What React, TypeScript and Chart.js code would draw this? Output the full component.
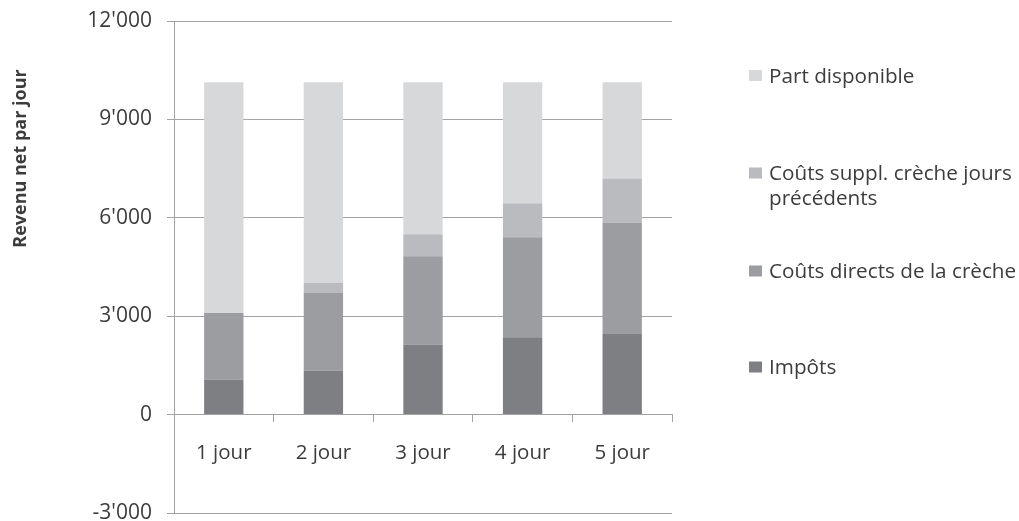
import React, { useEffect, useRef } from "react";
import { Chart, registerables } from "chart.js";

Chart.register(...registerables);

const categories = ["1 jour", "2 jour", "3 jour", "4 jour", "5 jour"];
const impots = [1070, 1340, 2140, 2360, 2460];
const coutsDirects = [2030, 2370, 2690, 3050, 3400];
const coutsSuppl = [0, 310, 670, 1030, 1340];
const partDisponible = [7030, 6110, 4630, 3690, 2930];
const yTicks = [-3000, 0, 3000, 6000, 9000, 12000];

const seriesNames = [
  "Impôts",
  "Coûts directs de la crèche",
  ["Coûts suppl. crèche jours", "précédents"],
  "Part disponible",
];
const colors = ["#7e7f83", "#9c9da1", "#babbbe", "#d7d8da"];

const FONT = "'Open Sans'";
const TEXT = "#3c3c3c";
const GRID = "#a3a3a3";

function fmt(v: number): string {
  const s = Math.abs(v).toString().replace(/\B(?=(\d{3})+(?!\d))/g, "'");
  return (v < 0 ? "-" : "") + s;
}

const overlayPlugin = {
  id: "overlay",
  afterDraw(chart: any) {
    const ctx = chart.ctx;
    ctx.save();
    ctx.fillStyle = TEXT;
    ctx.font = `bold 18px ${FONT}`;
    ctx.textAlign = "center";
    ctx.textBaseline = "alphabetic";
    ctx.translate(26, 158.5);
    ctx.rotate(-Math.PI / 2);
    ctx.fillText("Revenu net par jour", 0, 0);
    ctx.restore();

    ctx.save();
    ctx.font = `20.7px ${FONT}`;
    ctx.textBaseline = "alphabetic";
    ctx.textAlign = "left";
    const rows = [75.5, 173, 271, 367];
    for (let i = 0; i < 4; i++) {
      const di = 3 - i;
      const y = rows[i];
      ctx.fillStyle = colors[di];
      ctx.fillRect(749, y - 5.5, 13, 11);
      ctx.fillStyle = TEXT;
      const name = seriesNames[di];
      const lines = Array.isArray(name) ? name : [name];
      lines.forEach((l, k) => ctx.fillText(l, 769, y + 7 + k * 25));
    }
    ctx.restore();
  },
};

export default function App() {
  const ref = useRef<HTMLCanvasElement>(null);
  useEffect(() => {
    const data = [impots, coutsDirects, coutsSuppl, partDisponible];
    const chart = new Chart(ref.current!, {
      type: "bar",
      data: {
        labels: categories,
        datasets: data.map((d, i) => ({
          label: Array.isArray(seriesNames[i]) ? (seriesNames[i] as string[]).join(" ") : (seriesNames[i] as string),
          data: d,
          backgroundColor: colors[i],
          borderWidth: 0,
          categoryPercentage: 1,
          barPercentage: 0.395,
        })),
      },
      options: {
        animation: false,
        responsive: true,
        maintainAspectRatio: false,
        layout: { padding: { left: 0, right: 347, top: 21, bottom: 47 } },
        plugins: { legend: { display: false }, tooltip: { enabled: false } },
        scales: {
          x: {
            stacked: true,
            position: { y: 0 } as any,
            afterFit: (s: any) => { s.height = 0; s.paddingLeft = 0; s.paddingRight = 0; },
            grid: { display: true, drawOnChartArea: false, drawTicks: true, tickLength: 7, offset: true, color: GRID },
            border: { display: true, color: GRID },
            ticks: { color: TEXT, font: { family: FONT, size: 20.5 }, padding: 19 },
          },
          y: {
            stacked: true,
            min: -3000,
            max: 12000,
            afterFit: (s: any) => { s.width = 174; s.paddingTop = 0; s.paddingBottom = 0; },
            afterBuildTicks: (s: any) => { s.ticks = yTicks.map((v) => ({ value: v })); },
            grid: { color: GRID, tickLength: 7, drawTicks: true },
            border: { display: true, color: GRID },
            ticks: {
              color: TEXT,
              font: { family: FONT, size: 21 },
              padding: 15,
              callback: (v: any) => fmt(Number(v)),
            },
          },
        },
      },
      plugins: [overlayPlugin],
    });
    return () => chart.destroy();
  }, []);
  return (
    <div style={{ position: "fixed", left: 0, top: 0, width: 1019, height: 560, background: "#fff" }}>
      <canvas ref={ref} />
    </div>
  );
}
